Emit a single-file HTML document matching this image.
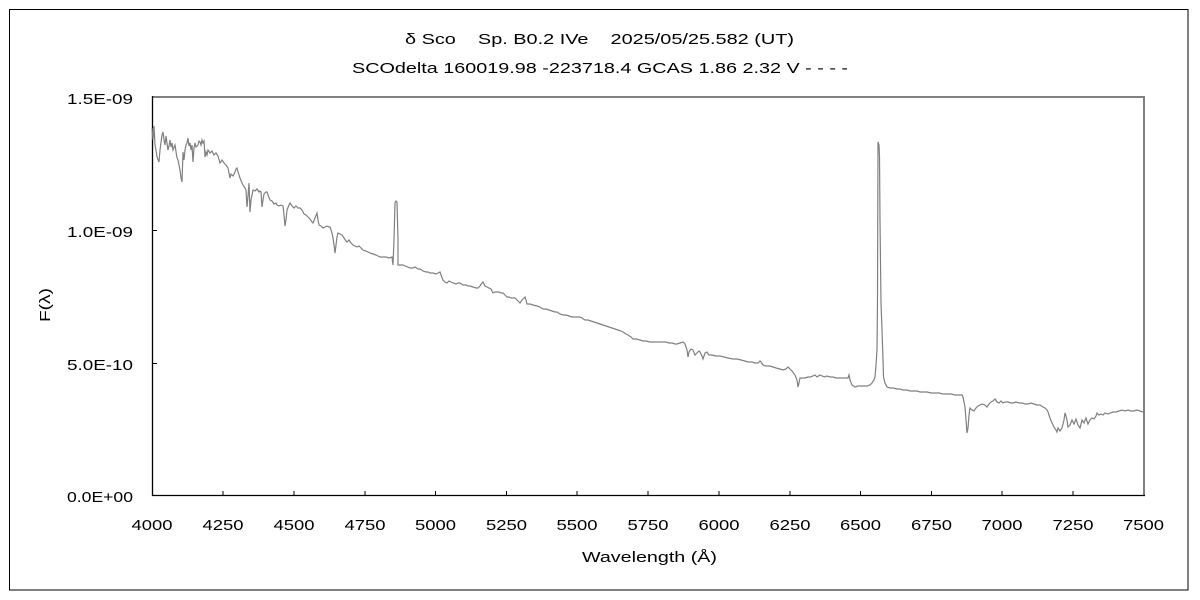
<!DOCTYPE html>
<html>
<head>
<meta charset="utf-8">
<style>
html,body{margin:0;padding:0;background:#fff;}
svg{display:block;}
text{font-family:"Liberation Sans","IPAGothic",sans-serif;fill:#000;}
</style>
</head>
<body>
<svg width="1200" height="600" viewBox="0 0 1200 600" xmlns="http://www.w3.org/2000/svg">
<rect x="0" y="0" width="1200" height="600" fill="#fff"/>
<rect x="9.5" y="9.5" width="1178.5" height="580.5" fill="none" stroke="#000" stroke-width="1"/>

<!-- titles -->
<text x="405" y="44" font-size="15" textLength="389" lengthAdjust="spacingAndGlyphs">δ&#160;Sco&#160;&#160;&#160;&#160;Sp. B0.2 IVe&#160;&#160;&#160;&#160;2025/05/25.582 (UT)</text>
<text x="352" y="73" font-size="15" textLength="496" lengthAdjust="spacingAndGlyphs">SCOdelta 160019.98 -223718.4 GCAS 1.86 2.32 V - - - -</text>

<!-- plot frame -->
<line x1="152" y1="97" x2="1145" y2="97" stroke="#808080" stroke-width="2"/>
<line x1="1144" y1="96" x2="1144" y2="496" stroke="#808080" stroke-width="2"/>
<line x1="152.5" y1="96" x2="152.5" y2="496" stroke="#000" stroke-width="1.3"/>
<line x1="152" y1="495.5" x2="1145" y2="495.5" stroke="#000" stroke-width="1.3"/>

<!-- y ticks -->
<g stroke="#000" stroke-width="1">
<line x1="152" y1="230.5" x2="157" y2="230.5"/>
<line x1="152" y1="363.5" x2="157" y2="363.5"/>
</g>
<!-- x ticks -->
<g stroke="#000" stroke-width="1">
<line x1="223" y1="495" x2="223" y2="491"/>
<line x1="294" y1="495" x2="294" y2="491"/>
<line x1="365" y1="495" x2="365" y2="491"/>
<line x1="435.5" y1="495" x2="435.5" y2="491"/>
<line x1="506.5" y1="495" x2="506.5" y2="491"/>
<line x1="577" y1="495" x2="577" y2="491"/>
<line x1="648" y1="495" x2="648" y2="491"/>
<line x1="719" y1="495" x2="719" y2="491"/>
<line x1="790" y1="495" x2="790" y2="491"/>
<line x1="860.5" y1="495" x2="860.5" y2="491"/>
<line x1="931.5" y1="495" x2="931.5" y2="491"/>
<line x1="1002" y1="495" x2="1002" y2="491"/>
<line x1="1073" y1="495" x2="1073" y2="491"/>
</g>

<!-- y labels -->
<g font-size="15" text-anchor="end">
<text x="133" y="104" textLength="66" lengthAdjust="spacingAndGlyphs">1.5E-09</text>
<text x="133" y="237" textLength="66" lengthAdjust="spacingAndGlyphs">1.0E-09</text>
<text x="133" y="370" textLength="66" lengthAdjust="spacingAndGlyphs">5.0E-10</text>
<text x="133" y="502" textLength="66" lengthAdjust="spacingAndGlyphs">0.0E+00</text>
</g>

<!-- x labels -->
<g font-size="15">
<text x="131.5" y="530" textLength="41" lengthAdjust="spacingAndGlyphs">4000</text>
<text x="202.5" y="530" textLength="41" lengthAdjust="spacingAndGlyphs">4250</text>
<text x="273.5" y="530" textLength="41" lengthAdjust="spacingAndGlyphs">4500</text>
<text x="344.5" y="530" textLength="41" lengthAdjust="spacingAndGlyphs">4750</text>
<text x="415" y="530" textLength="41" lengthAdjust="spacingAndGlyphs">5000</text>
<text x="486" y="530" textLength="41" lengthAdjust="spacingAndGlyphs">5250</text>
<text x="556.5" y="530" textLength="41" lengthAdjust="spacingAndGlyphs">5500</text>
<text x="627.5" y="530" textLength="41" lengthAdjust="spacingAndGlyphs">5750</text>
<text x="698.5" y="530" textLength="41" lengthAdjust="spacingAndGlyphs">6000</text>
<text x="769.5" y="530" textLength="41" lengthAdjust="spacingAndGlyphs">6250</text>
<text x="840" y="530" textLength="41" lengthAdjust="spacingAndGlyphs">6500</text>
<text x="911" y="530" textLength="41" lengthAdjust="spacingAndGlyphs">6750</text>
<text x="981.5" y="530" textLength="41" lengthAdjust="spacingAndGlyphs">7000</text>
<text x="1052.5" y="530" textLength="41" lengthAdjust="spacingAndGlyphs">7250</text>
<text x="1123" y="530" textLength="41" lengthAdjust="spacingAndGlyphs">7500</text>
</g>

<!-- axis titles -->
<text x="582" y="562" font-size="15" textLength="135" lengthAdjust="spacingAndGlyphs">Wavelength (Å)</text>
<text transform="translate(50,322) rotate(-90)" x="0" y="0" font-size="15" textLength="34" lengthAdjust="spacingAndGlyphs">F(λ)</text>

<!-- spectrum -->
<polyline fill="none" stroke="#808080" stroke-width="1.2" stroke-linejoin="miter" points="
152,128 153,140 154,126 155,145 156,150 157,157 159,162 160,150 162,135 163,132 164,140 165,145 166,136 167,143 168,150 169,146 170,140 171,147 172,143 173,150 175,145 177,158 178,160 180,170 181,178 182,182 183,152 184,160 185,150 186,145 187,143 188,138 189,146 190,143 191,150 192,145 193,162 194,148 195,143 196,147 198,145 199,141 200,142 201,145 202,140 203,143 204,141 205,157 206,152 207,155 208,150 210,153 212,151 214,155 216,153 218,156 220,163 222,160 224,163 226,165 228,168 230,178 231,174 233,176 235,172 236,169 237,168 238,172 240,178 242,183 243,185 245,188 246,190 247,207 248,196 249,183 250,212 251,200 252,195 253,190 255,191 257,189 259,192 260,191 261,192 262,207 263,200 264,194 266,192 267,192 268,195 270,200 272,201 274,204 276,203 277,205 279,206 281,205 283,206 284,215 285,226 286,220 287,210 289,205 290,203 292,206 294,208 296,206 298,208 300,208 302,210 304,214 306,215 308,217 310,219 312,222 313,223 315,218 317,213 318,220 319,225 321,226 323,228 325,227 327,226 329,227 330,227 332,233 333,238 334,245 335,253 336,245 337,237 338,233 340,234 342,235 344,238 346,241 347,242 349,240 351,243 353,245 355,246 357,247 359,246 361,248 363,250 366,251 368,252 370,253 373,254 376,255 378,256 380,257 383,257 386,257 389,258 392,257 393,265 394,240 395,203 396,201 397,202 398,240 398,265 400,265 403,265 405,266 408,267 410,268 413,268 415,267 418,269 420,269 423,271 426,272 428,272 430,273 433,273 436,274 438,273 440,272 441,275 443,280 445,282 447,283 449,281 451,282 453,283 456,284 458,283 460,283 463,285 466,285 468,286 470,286 473,287 476,288 478,288 480,286 482,283 483,282 485,286 487,287 489,288 491,289 493,293 495,292 497,292 499,292 501,293 503,293 505,295 507,297 509,297 511,298 513,298 515,298 517,300 519,302 520,303 522,300 524,298 525,297 526,300 527,304 530,304 533,305 537,306 540,307 543,309 546,309 549,310 552,311 555,312 557,312 560,314 563,315 566,315 569,316 572,317 575,317 578,317 580,317 582,318 585,320 588,320 591,321 594,322 597,323 600,324 603,325 606,326 609,327 612,328 615,329 618,330 621,331 623,332 626,334 628,335 631,337 633,339 636,339 640,340 643,341 646,341 650,342 653,342 656,342 660,342 663,342 666,342 669,343 672,343 675,344 677,344 680,343 683,342 685,344 687,350 688,357 689,352 691,349 693,350 695,355 697,353 699,351 700,352 702,356 703,359 705,353 707,352 709,355 712,355 716,356 720,356 724,357 728,358 733,359 737,359 741,360 745,361 748,362 752,362 755,363 758,363 760,361 761,362 763,365 766,366 770,366 773,367 776,368 780,369 783,370 786,369 788,367 790,369 792,371 795,375 797,380 798,387 799,383 800,378 802,378 805,378 808,377 810,377 813,376 815,375 817,377 820,375 822,376 825,377 827,376 830,377 833,377 836,378 838,378 841,378 844,378 846,378 848,378 849,375 850,380 852,385 855,387 858,386 861,386 864,386 867,386 870,385 872,383 874,380 875,377 876,365 877,350 877.5,300 878,142 879,145 879.5,157 880,220 881,303 882,330 883,360 883.5,377 885,383 887,387 890,388 893,388 897,389 900,389 903,390 907,390 910,391 913,391 917,391 920,392 924,392 927,392 931,393 935,393 939,393 943,394 947,394 951,394 955,395 959,395 962,395 963,397 964,402 965,407 966,420 967,433 968,428 969,415 970,408 972,410 974,411 976,408 978,406 980,405 982,404 985,405 987,407 989,404 991,402 993,401 995,399 997,402 999,403 1001,401 1003,403 1005,402 1008,402 1011,403 1013,403 1016,402 1019,403 1022,403 1025,404 1028,404 1031,403 1034,404 1037,405 1040,405 1043,407 1045,408 1047,410 1048,412 1050,418 1052,423 1054,427 1056,430 1057,432 1058,428 1060,431 1062,428 1064,420 1065,413 1066,416 1067,420 1068,427 1070,425 1072,420 1074,424 1076,419 1078,425 1080,428 1082,420 1084,423 1086,418 1088,424 1090,420 1092,418 1094,419 1096,416 1097,413 1099,415 1101,414 1103,415 1105,413 1108,414 1110,413 1113,412 1116,412 1119,411 1122,410 1125,411 1128,410 1131,411 1134,411 1137,410 1140,411 1143,412"/>
</svg>
</body>
</html>
